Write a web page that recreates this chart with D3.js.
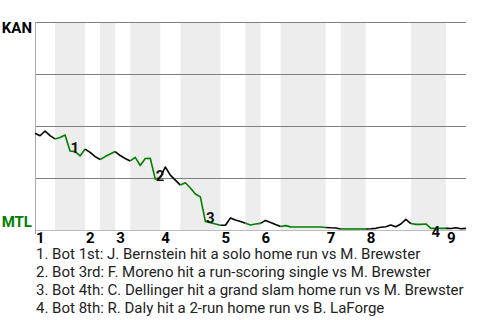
<!DOCTYPE html>
<html>
<head>
<meta charset="utf-8">
<script src="https://cdn.jsdelivr.net/npm/d3@7"></script>
<style>
  body { margin: 0; background: #fff; }
  text { font-family: Roboto, "Liberation Sans", sans-serif; }
</style>
</head>
<body>
<div id="chart"></div>
<script>
// Teams (top of chart = away win, bottom = home win)
var awayTeam = "KAN";
var homeTeam = "MTL";

// Inning numbers shown along the bottom
var innings = ["1", "2", "3", "4", "5", "6", "7", "8", "9"];

// Plate appearance index where each half inning begins (top 1, bot 1, top 2, ...)
var halfStarts = [0, 4, 10, 13, 16, 19, 25, 29, 37, 42, 45, 49, 58, 61, 66, 75, 82];
var lastEvent = 86;

// Away team win probability after each plate appearance
var winProb = [
  0.465, 0.453, 0.476, 0.454, 0.438, 0.445, 0.457, 0.380, 0.377, 0.356,
  0.389, 0.373, 0.353, 0.339, 0.353, 0.365, 0.377, 0.358, 0.344, 0.332,
  0.349, 0.310, 0.344, 0.345, 0.245, 0.252, 0.303, 0.264, 0.240, 0.216,
  0.227, 0.202, 0.173, 0.159, 0.041, 0.035, 0.029, 0.023, 0.023, 0.058,
  0.048, 0.041, 0.032, 0.024, 0.029, 0.032, 0.046, 0.036, 0.026, 0.017,
  0.021, 0.015, 0.0145, 0.0145, 0.0145, 0.0145, 0.0145, 0.0145, 0.012, 0.0105,
  0.0096, 0.005, 0.005, 0.005, 0.005, 0.005, 0.005, 0.006, 0.008, 0.013,
  0.016, 0.024, 0.016, 0.029, 0.051, 0.031, 0.027, 0.027, 0.029, 0.008,
  0.008, 0.008, 0.008, 0.007, 0.011, 0.006, 0.008
];

// Key plays: plate appearance index and description
var playEvents = [7, 24, 34, 79];
var playTexts = [
  "Bot 1st: J. Bernstein hit a solo home run vs M. Brewster",
  "Bot 3rd: F. Moreno hit a run-scoring single vs M. Brewster",
  "Bot 4th: C. Dellinger hit a grand slam home run vs M. Brewster",
  "Bot 8th: R. Daly hit a 2-run home run vs B. LaForge"
];

var svgWidth = 480;
var svgHeight = 320;
var margin = { top: 22, right: 14, bottom: 90, left: 35 };
var chartWidth = svgWidth - margin.left - margin.right;
var chartHeight = svgHeight - margin.top - margin.bottom;

var green = "#008000";

var svg = d3.select("#chart")
  .append("svg")
  .attr("width", svgWidth)
  .attr("height", svgHeight);

var chartGroup = svg.append("g")
  .attr("transform", `translate(${margin.left}, ${margin.top})`);

var xScale = d3.scaleLinear()
  .domain([0, lastEvent])
  .range([0, chartWidth]);

var yScale = d3.scaleLinear()
  .domain([0, 1])
  .range([chartHeight, 0]);

// Half-inning list with start and end
var halves = halfStarts.map(function(s, i) {
  return {
    start: s,
    end: i < halfStarts.length - 1 ? halfStarts[i + 1] : lastEvent,
    bottom: i % 2 === 1
  };
});

// Shade the bottom halves
chartGroup.selectAll(".band")
  .data(halves.filter(d => d.bottom))
  .enter()
  .append("rect")
  .attr("x", d => xScale(d.start))
  .attr("width", d => xScale(d.end) - xScale(d.start))
  .attr("y", 0)
  .attr("height", chartHeight)
  .attr("fill", "#ededed");

// Horizontal grid
chartGroup.selectAll(".grid")
  .data([0, 0.25, 0.5, 0.75, 1])
  .enter()
  .append("line")
  .attr("x1", 0)
  .attr("x2", chartWidth)
  .attr("y1", d => Math.round(yScale(d)) + 0.5)
  .attr("y2", d => Math.round(yScale(d)) + 0.5)
  .attr("stroke", d => d === 0 ? "#bbb" : "#808080")
  .attr("stroke-width", 1);

// Left axis line
chartGroup.append("line")
  .attr("x1", 0.5).attr("x2", 0.5)
  .attr("y1", 0).attr("y2", chartHeight + 4)
  .attr("stroke", "#aaa");

// Win probability line, one piece per half inning
var line = d3.line()
  .x(d => xScale(d))
  .y(d => yScale(winProb[d]));

chartGroup.selectAll(".wp")
  .data(halves)
  .enter()
  .append("path")
  .attr("d", d => line(d3.range(d.start, d.end + 1)))
  .attr("fill", "none")
  .attr("stroke", d => d.bottom ? green : "#000")
  .attr("stroke-width", 1.6)
  .attr("stroke-linejoin", "round");

// Key play markers
chartGroup.selectAll(".play")
  .data(playEvents)
  .enter()
  .append("text")
  .text((d, i) => i + 1)
  .attr("x", d => xScale(d) + 0.5)
  .attr("y", function(d) {
    var y = yScale(winProb[d]);
    return chartHeight - y < 4 ? y + 8.5 : y + 2;
  })
  .attr("font-size", 15)
  .attr("font-weight", "bold")
  .attr("fill", "#111");

// Inning numbers
chartGroup.selectAll(".inning")
  .data(innings)
  .enter()
  .append("text")
  .text(d => d)
  .attr("x", (d, i) => xScale(halfStarts[i * 2]) + 1)
  .attr("y", chartHeight + 12.5)
  .attr("font-size", 15)
  .attr("font-weight", "bold")
  .attr("fill", "#000");

// Team labels
svg.append("text")
  .text(awayTeam)
  .attr("x", 32)
  .attr("y", margin.top + yScale(1) + 11)
  .attr("text-anchor", "end")
  .attr("font-size", 15)
  .attr("font-weight", "bold")
  .attr("fill", "#000");

svg.append("text")
  .text(homeTeam)
  .attr("x", 32)
  .attr("y", margin.top + yScale(0) - 3)
  .attr("text-anchor", "end")
  .attr("font-size", 15)
  .attr("font-weight", "bold")
  .attr("fill", green);

// Key play descriptions
svg.selectAll(".desc")
  .data(playTexts)
  .enter()
  .append("text")
  .text((d, i) => (i + 1) + ". " + d)
  .attr("x", 36)
  .attr("y", (d, i) => 258.5 + i * 18)
  .attr("font-size", 15)
  .attr("fill", "#222");
</script>
</body>
</html>
